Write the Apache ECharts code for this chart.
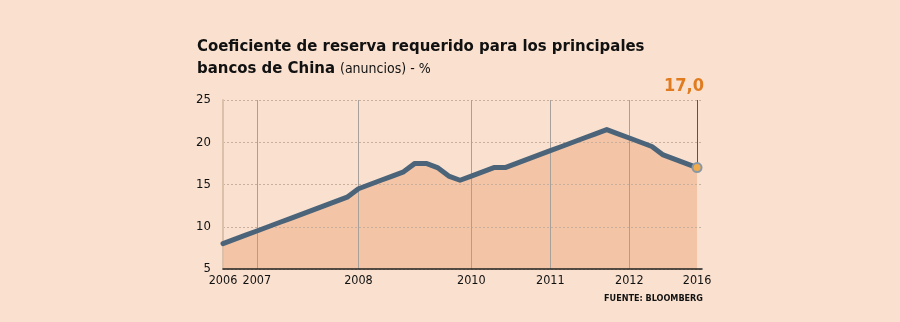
<!DOCTYPE html>
<html><head><meta charset="utf-8">
<script src="https://cdn.jsdelivr.net/npm/echarts@6/dist/echarts.min.js"></script>
<style>html,body{margin:0;padding:0;background:#f9e0cf}#c{width:900px;height:322px}</style>
</head><body><div id="c"></div>
<script>
// Reserve requirement ratio, one value per announcement (evenly spaced)
const ratio = [8, 8.5, 9, 9.5, 10, 10.5, 11, 11.5, 12, 12.5, 13, 13.5, 14.5, 15, 15.5, 16, 16.5, 17.5, 17.5, 17, 16, 15.5,
  16, 16.5, 17, 17, 17.5, 18, 18.5, 19, 19.5, 20, 20.5, 21, 21.5, 21, 20.5, 20, 19.5, 18.5, 18, 17.5, 17];
// announcement index where a year label is shown
const tickIndex = [0, 3, 12, 22, 29, 36, 42];
const tickLabels = ['2006', '2007', '2008', '2010', '2011', '2012', '2016'];
const yMin = 5, yMax = 25, yStep = 5;

const FONT = '"DejaVu Sans Condensed", "DejaVu Sans", sans-serif';
const last = ratio.length - 1;
const points = ratio.map((v, i) => [i, v]);

const chart = echarts.init(document.getElementById('c'), null, {renderer: 'canvas'});
chart.setOption({
  animation: false,
  backgroundColor: '#f9e0cf',
  title: {
    left: 192, top: 31,
    text: '{b|Coeficiente de reserva requerido para los principales}\n{b|bancos de China} {n|(anuncios) - %}',
    textStyle: {
      rich: {
        b: {fontFamily: FONT, fontWeight: 'bold', fontSize: 16.6, color: '#111', lineHeight: 22},
        n: {fontFamily: FONT, fontWeight: 'normal', fontSize: 14, color: '#111', lineHeight: 22}
      }
    }
  },
  graphic: [{
    type: 'text', right: 197, top: 294,
    style: {text: 'FUENTE: BLOOMBERG', fontFamily: FONT, fontWeight: 'bold', fontSize: 9, fill: '#111'}
  }],
  grid: {left: 223, right: 198, top: 100, bottom: 53, containLabel: false},
  xAxis: {
    type: 'value', min: 0, max: last + 0.44, interval: 1, z: 3,
    axisLine: {show: true, lineStyle: {color: '#222', width: 1.5}},
    axisTick: {show: false},
    splitLine: {show: false},
    axisLabel: {
      margin: 5, fontFamily: FONT, fontSize: 12.5, color: '#111',
      showMinLabel: true, showMaxLabel: true,
      formatter: v => { const k = tickIndex.indexOf(v); return k >= 0 ? tickLabels[k] : ''; }
    }
  },
  yAxis: {
    type: 'value', min: yMin, max: yMax, interval: yStep, z: 3,
    axisLine: {show: true, lineStyle: {color: '#dcc1aa', width: 2}},
    axisTick: {show: false},
    splitLine: {show: true, lineStyle: {color: '#c9b09c', type: [2, 2], width: 1}},
    axisLabel: {margin: 12, fontFamily: FONT, fontSize: 13, color: '#111'}
  },
  series: [
    {
      type: 'line', data: points, z: 2, symbol: 'none', silent: true,
      lineStyle: {width: 0},
      areaStyle: {color: '#f3c4a5', opacity: 1},
      markLine: {
        z: 3, silent: true, symbol: ['none', 'none'], label: {show: false},
        lineStyle: {color: '#a8a19b', width: 1, type: 'solid'},
        data: tickIndex.filter(i => i > 0 && i < last).map(i => ({xAxis: i}))
      }
    },
    {
      type: 'line', data: points, z: 5, symbol: 'none', silent: true,
      lineStyle: {color: '#4b6479', width: 5, join: 'round', cap: 'round'},
      markLine: {
        z: 4, silent: true, symbol: ['none', 'none'],
        lineStyle: {color: '#555', width: 1, type: 'solid'},
        label: {
          show: true, position: 'end', distance: 5, offset: [-13, 0],
          formatter: () => ratio[last].toFixed(1).replace('.', ','),
          fontFamily: FONT, fontWeight: 'bold', fontSize: 18, color: '#e07b1f'
        },
        data: [[{coord: [last, ratio[last]]}, {coord: [last, yMax]}]]
      },
      markPoint: {
        z: 10, silent: true, symbol: 'circle', symbolSize: 9,
        itemStyle: {color: '#f1aa4c', borderColor: '#8a98a5', borderWidth: 2},
        label: {show: false},
        data: [{coord: [last, ratio[last]]}]
      }
    }
  ]
});
</script></body></html>
